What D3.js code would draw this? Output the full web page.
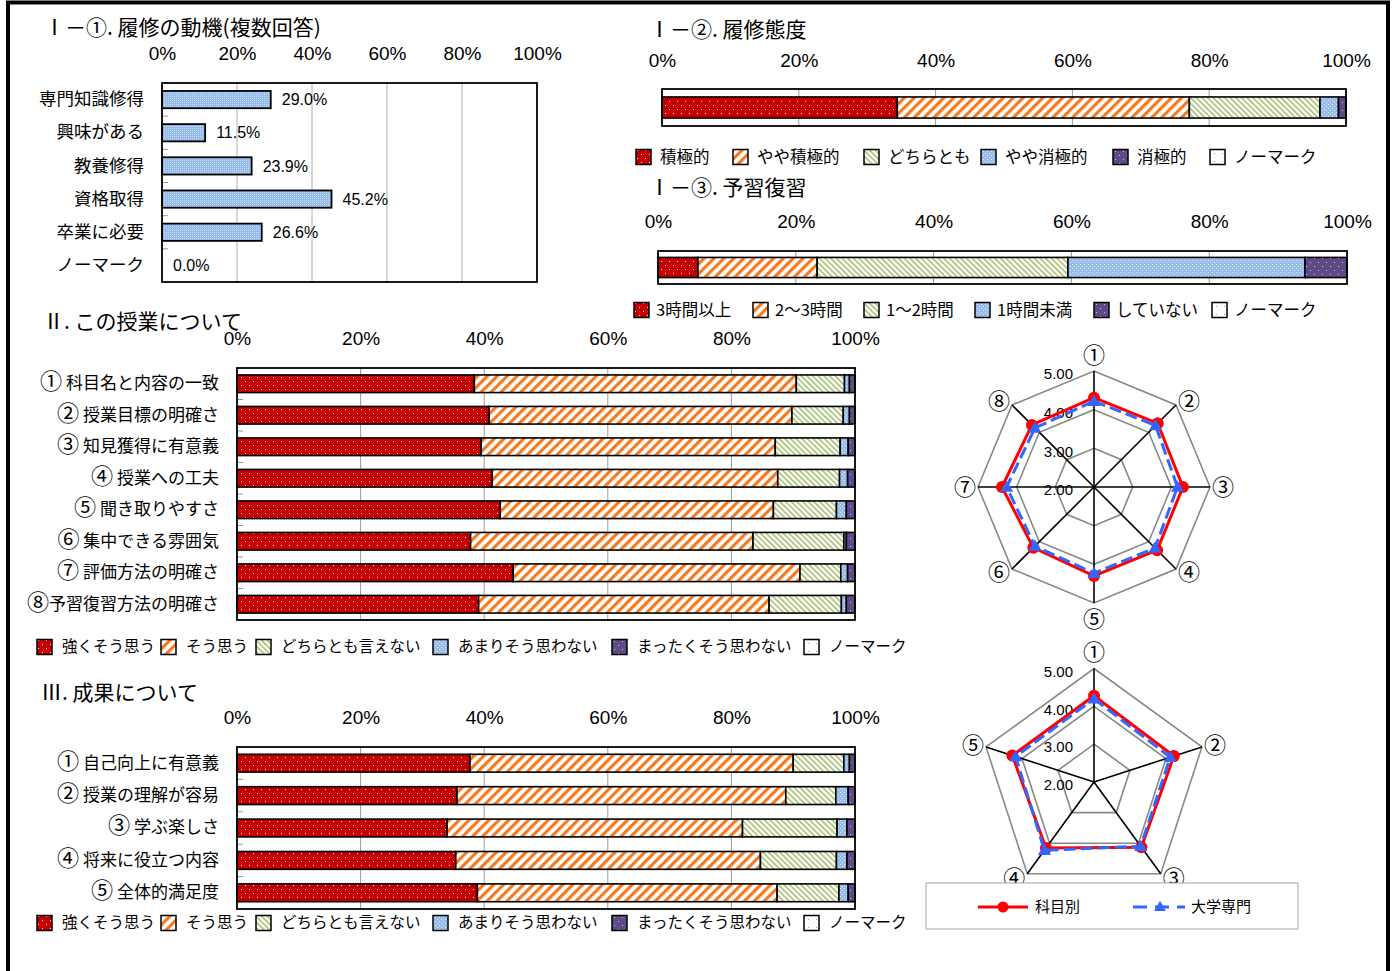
<!DOCTYPE html>
<html>
<head>
<meta charset="utf-8">
<script src="https://cdnjs.cloudflare.com/ajax/libs/d3/7.8.5/d3.min.js"></script>
<style>
  body { margin: 0; background: #fff; }
  svg { display: block; }
  text { font-family: "Noto Sans CJK JP", sans-serif; fill: #000; }
  .num { font-family: "Liberation Sans", Arial, sans-serif; }
  .narrow { font-family: "Liberation Sans Narrow", "Arial Narrow", "Liberation Sans", sans-serif; }
</style>
</head>
<body>
<svg id="chart" width="1393" height="971"></svg>
<script>
"use strict";

// ---- data ----
var motiveCats = ['専門知識修得', '興味がある', '教養修得', '資格取得', '卒業に必要', 'ノーマーク'];
var motiveVals = [29.0, 11.5, 23.9, 45.2, 26.6, 0.0];

var attitudeKeys = ['積極的', 'やや積極的', 'どちらとも', 'やや消極的', '消極的', 'ノーマーク'];
var attitudeVals = [34.4, 42.7, 19.1, 2.7, 1.1, 0.0];

var studyKeys = ['3時間以上', '2～3時間', '1～2時間', '1時間未満', 'していない', 'ノーマーク'];
var studyVals = [5.8, 17.3, 36.4, 34.4, 6.1, 0.0];

var agreeKeys = ['強くそう思う', 'そう思う', 'どちらとも言えない', 'あまりそう思わない', 'まったくそう思わない', 'ノーマーク'];

var classItems = ['① 科目名と内容の一致', '② 授業目標の明確さ', '③ 知見獲得に有意義', '④ 授業への工夫',
                  '⑤ 聞き取りやすさ', '⑥ 集中できる雰囲気', '⑦ 評価方法の明確さ', '⑧予習復習方法の明確さ'];
var classVals = [
    [38.4, 52.1, 7.8, 0.8, 0.9, 0],
    [40.8, 49.0, 8.3, 1.0, 0.9, 0],
    [39.5, 47.6, 10.5, 1.3, 1.1, 0],
    [41.3, 46.2, 10.0, 1.3, 1.2, 0],
    [42.6, 44.2, 10.2, 1.6, 1.4, 0],
    [37.8, 45.7, 14.7, 0.4, 1.4, 0],
    [44.7, 46.4, 6.6, 1.1, 1.2, 0],
    [39.1, 47.0, 11.7, 0.8, 1.4, 0]
];

var resultItems = ['① 自己向上に有意義', '② 授業の理解が容易', '③ 学ぶ楽しさ', '④ 将来に役立つ内容', '⑤ 全体的満足度'];
var resultVals = [
    [37.7, 52.3, 8.2, 0.9, 0.9, 0],
    [35.6, 53.2, 8.1, 2.0, 1.1, 0],
    [34.0, 47.8, 15.3, 1.6, 1.3, 0],
    [35.4, 49.3, 12.3, 1.7, 1.3, 0],
    [38.9, 48.5, 10.0, 1.5, 1.1, 0]
];

var pctTicks = [0, 20, 40, 60, 80, 100];
var radarTicks = [2, 3, 4, 5];
var seriesNames = ['科目別', '大学専門'];

var classAxes = ['①', '②', '③', '④', '⑤', '⑥', '⑦', '⑧'];
var classSubject = [4.31, 4.33, 4.30, 4.31, 4.30, 4.22, 4.38, 4.27];
var classUniv = [4.22, 4.25, 4.16, 4.23, 4.23, 4.16, 4.26, 4.16];

var resultAxes = ['①', '②', '③', '④', '⑤'];
var resultSubject = [4.28, 4.22, 4.13, 4.16, 4.27];
var resultUniv = [4.20, 4.12, 4.10, 4.23, 4.18];

// ---- setup ----
var svg = d3.select('#chart');
svg.append('rect').attr('width', 1393).attr('height', 971).attr('fill', '#fff');

var defs = svg.append('defs');

function dotPattern(id, bg, dot, size, pts, op) {
    var p = defs.append('pattern').attr('id', id)
        .attr('patternUnits', 'userSpaceOnUse')
        .attr('width', size).attr('height', size);
    p.append('rect').attr('width', size).attr('height', size).attr('fill', bg);
    pts.forEach(function(q) {
        p.append('rect').attr('x', q[0]).attr('y', q[1]).attr('width', 1).attr('height', 1)
            .attr('fill', dot).attr('opacity', op);
    });
}

function stripePattern(id, color, size, w, angle) {
    var p = defs.append('pattern').attr('id', id)
        .attr('patternUnits', 'userSpaceOnUse')
        .attr('width', size).attr('height', size)
        .attr('patternTransform', 'rotate(' + angle + ')');
    p.append('rect').attr('width', size).attr('height', size).attr('fill', '#fff');
    p.append('rect').attr('width', w).attr('height', size).attr('fill', color);
}

dotPattern('p-red', '#C40000', '#fff', 8, [[1, 1], [5, 5]], 0.9);
stripePattern('p-orange', '#F47A1F', 7, 3.2, 45);
stripePattern('p-green', '#9DBA66', 4, 1.5, -45);
dotPattern('p-blue', '#98BDEA', '#fff', 4, [[0, 0], [2, 2]], 0.7);
dotPattern('p-purple', '#5E4A86', '#fff', 8, [[2, 2], [6, 6]], 0.7);
dotPattern('p-none', '#fff', '#888', 8, [[4, 4]], 0.8);
dotPattern('p-motive', '#93BBEC', '#fff', 2, [[0, 0]], 0.45);

var fills = ['url(#p-red)', 'url(#p-orange)', 'url(#p-green)', 'url(#p-blue)', 'url(#p-purple)', 'url(#p-none)'];

var circled = /^[①②③④⑤⑥⑦⑧]/;

// enlarge the circled digit, it is small in the CJK font
function withCircled(sel) {
    sel.each(function(d) {
        var t = d3.select(this);
        var s = t.text();
        if (!circled.test(s)) return;
        t.text(null);
        t.append('tspan').style('font-size', '1.3em').text(s[0]);
        t.append('tspan').text(s.slice(1));
    });
}

function title(txt, x, y) {
    svg.append('text').attr('x', x).attr('y', y).attr('dy', '0.35em')
        .style('font-size', '21px').text(txt).call(withCircled);
}

function pctAxis(x, y) {
    var g = svg.append('g').attr('transform', 'translate(0,' + y + ')')
        .call(d3.axisTop(x).tickValues(pctTicks).tickFormat(function(d) { return d + '%'; })
            .tickSize(0).tickPadding(0));
    g.select('.domain').remove();
    g.selectAll('text').attr('y', 0).attr('dy', '0.35em')
        .attr('class', 'num').style('font-size', '19px').attr('fill', '#000');
}

function frame(x, y, gridStroke) {
    var g = svg.append('g');
    g.selectAll('line').data([20, 40, 60, 80]).join('line')
        .attr('x1', function(d) { return x(d); }).attr('x2', function(d) { return x(d); })
        .attr('y1', y.range()[0]).attr('y2', y.range()[1])
        .attr('stroke', gridStroke).attr('stroke-width', 1);
    return g;
}

function bandTicks(x, y) {
    var n = y.domain().length;
    var step = y.step();
    svg.append('g').selectAll('line').data(d3.range(1, n)).join('line')
        .attr('x1', x.range()[0]).attr('x2', x.range()[0] + 6)
        .attr('y1', function(i) { return y.range()[0] + i * step; })
        .attr('y2', function(i) { return y.range()[0] + i * step; })
        .attr('stroke', '#999').attr('stroke-width', 1);
}

function box(x, y) {
    svg.append('rect')
        .attr('x', x.range()[0]).attr('y', y.range()[0])
        .attr('width', x.range()[1] - x.range()[0])
        .attr('height', y.range()[1] - y.range()[0])
        .attr('fill', 'none').attr('stroke', '#000').attr('stroke-width', 1.8);
}

function catAxis(y, labelX, size) {
    var g = svg.append('g').attr('transform', 'translate(' + labelX + ',0)')
        .call(d3.axisLeft(y).tickSize(0).tickPadding(0));
    g.select('.domain').remove();
    g.selectAll('text').attr('fill', '#000').style('font-size', size + 'px')
        .style('font-family', '"Noto Sans CJK JP", sans-serif')
        .call(withCircled);
}

function legend(keys, xs, y, size, off) {
    var g = svg.append('g');
    var it = g.selectAll('g').data(keys).join('g')
        .attr('transform', function(d, i) { return 'translate(' + xs[i] + ',' + y + ')'; });
    it.append('rect').attr('x', 0).attr('y', -7.5).attr('width', 15).attr('height', 15)
        .attr('fill', function(d, i) { return fills[i]; })
        .attr('stroke', '#000').attr('stroke-width', 1.5);
    it.append('text').attr('x', off).attr('dy', '0.35em')
        .style('font-size', size + 'px').text(function(d) { return d; });
}

// stacked 100% bars
function stacked(rows, vals, keys, o) {
    var x = d3.scaleLinear().domain([0, 100]).range([o.x0, o.x1]);
    var y = d3.scaleBand().domain(rows).range([o.y0, o.y1])
        .paddingInner(o.pad).paddingOuter(o.pad / 2);

    frame(x, y, '#9a9a9a');
    pctAxis(x, o.tickY);
    if (o.labelX) { catAxis(y, o.labelX, 17); bandTicks(x, y); }

    var series = d3.stack().keys(d3.range(keys.length))
        .value(function(d, k) { return d[k]; })(vals);

    svg.append('g').selectAll('g').data(series).join('g')
        .attr('fill', function(s) { return fills[s.key]; })
        .selectAll('rect').data(function(s) { return s.filter(function(p) { return p[1] - p[0] > 0; }); })
        .join('rect')
        .attr('x', function(p) { return x(p[0]); })
        .attr('width', function(p) { return x(p[1]) - x(p[0]); })
        .attr('y', function(p) { return y(rows[vals.indexOf(p.data)]); })
        .attr('height', y.bandwidth())
        .attr('stroke', '#000').attr('stroke-width', 1.6);

    box(x, y);
    legend(keys, o.legendX, o.legendY, o.legendSize, o.legendOff);
}

// ---- I-1 motive ----
title('Ⅰ－①. 履修の動機(複数回答)', 44, 28);
(function() {
    var x = d3.scaleLinear().domain([0, 100]).range([162, 537]);
    var y = d3.scaleBand().domain(motiveCats).range([83, 282]).paddingInner(0.48).paddingOuter(0.24);
    frame(x, y, '#b0b0b0');
    pctAxis(x, 53);
    catAxis(y, 144, 17.5);
    bandTicks(x, y);
    var g = svg.append('g');
    g.selectAll('rect').data(motiveVals).join('rect')
        .filter(function(d) { return d > 0; })
        .attr('x', x(0)).attr('y', function(d) { return y(motiveCats[motiveVals.indexOf(d)]); })
        .attr('width', function(d) { return x(d) - x(0); })
        .attr('height', y.bandwidth())
        .attr('fill', 'url(#p-motive)').attr('stroke', '#000').attr('stroke-width', 1.8);
    g.selectAll('text').data(motiveVals).join('text')
        .attr('class', 'narrow')
        .attr('x', function(d) { return x(d) + 11; })
        .attr('y', function(d, i) { return y(motiveCats[i]) + y.bandwidth() / 2; })
        .attr('dy', '0.35em').style('font-size', '16px')
        .text(function(d) { return d.toFixed(1) + '%'; });
    box(x, y);
})();

// ---- I-2 attitude ----
title('Ⅰ－②. 履修態度', 649, 30);
stacked(['all'], [attitudeVals], attitudeKeys, {
    x0: 662, x1: 1346, y0: 89, y1: 126, pad: 0.43, tickY: 60,
    legendX: [636, 733, 864, 981, 1113, 1210], legendY: 157, legendSize: 16.5, legendOff: 24
});

// ---- I-3 study ----
title('Ⅰ－③. 予習復習', 649, 188);
stacked(['all'], [studyVals], studyKeys, {
    x0: 658, x1: 1347, y0: 251, y1: 284, pad: 0.39, tickY: 221,
    legendX: [634, 753, 864, 975, 1094, 1212], legendY: 310, legendSize: 16.5, legendOff: 22
});

// ---- II class ----
title('Ⅱ. この授業について', 43, 322);
stacked(classItems, classVals, agreeKeys, {
    x0: 237, x1: 855, y0: 368, y1: 620, pad: 0.44, tickY: 338, labelX: 219,
    legendX: [37, 161, 256, 433, 612, 804], legendY: 647, legendSize: 15.5, legendOff: 25
});

// ---- III results ----
title('Ⅲ. 成果について', 41, 693);
stacked(resultItems, resultVals, agreeKeys, {
    x0: 237, x1: 855, y0: 747, y1: 909, pad: 0.45, tickY: 717, labelX: 219,
    legendX: [37, 161, 256, 433, 612, 804], legendY: 923, legendSize: 15.5, legendOff: 25
});

// ---- radar charts ----
function radar(axes, subj, univ, cx, cy, R) {
    var n = axes.length;
    var r = d3.scaleLinear().domain([2, 5]).range([0, R]);
    var ang = function(i) { return i * 2 * Math.PI / n; };
    var pt = function(i, v) { return [cx + r(v) * Math.sin(ang(i)), cy - r(v) * Math.cos(ang(i))]; };
    var g = svg.append('g');
    var closed = d3.line().curve(d3.curveLinearClosed);

    g.selectAll('path.ring').data([3, 4, 5]).join('path')
        .attr('d', function(v) { return closed(d3.range(n).map(function(i) { return pt(i, v); })); })
        .attr('fill', 'none').attr('stroke', '#888').attr('stroke-width', 1.6);
    g.selectAll('line.spoke').data(d3.range(n)).join('line')
        .attr('x1', cx).attr('y1', cy)
        .attr('x2', function(i) { return pt(i, 5)[0]; })
        .attr('y2', function(i) { return pt(i, 5)[1]; })
        .attr('stroke', '#000').attr('stroke-width', 1.6);

    g.selectAll('text.tick').data(radarTicks).join('text')
        .attr('class', 'num').attr('x', cx - 21).attr('y', function(v) { return cy - r(v) + 3; })
        .attr('dy', '0.35em').attr('text-anchor', 'end').style('font-size', '15px')
        .text(function(v) { return v.toFixed(2); });

    g.selectAll('text.ax').data(axes).join('text')
        .attr('x', function(d, i) {
            var ux = Math.sin(ang(i));
            return pt(i, 5)[0] + (Math.abs(ux) < 0.1 ? 0 : (ux > 0 ? 13 : -13));
        })
        .attr('y', function(d, i) {
            var ux = Math.sin(ang(i)), uy = -Math.cos(ang(i));
            return pt(i, 5)[1] + (Math.abs(ux) < 0.1 ? (uy < 0 ? -16 : 16) : uy * 5);
        })
        .attr('dy', '0.35em').attr('text-anchor', 'middle').style('font-size', '22px')
        .text(function(d) { return d; });

    g.append('path').attr('d', closed(subj.map(function(v, i) { return pt(i, v); })))
        .attr('fill', 'none').attr('stroke', '#FF0000').attr('stroke-width', 3);
    g.selectAll('circle').data(subj).join('circle')
        .attr('cx', function(v, i) { return pt(i, v)[0]; })
        .attr('cy', function(v, i) { return pt(i, v)[1]; })
        .attr('r', 6).attr('fill', '#FF0000');

    g.append('path').attr('d', closed(univ.map(function(v, i) { return pt(i, v); })))
        .attr('fill', 'none').attr('stroke', '#3366FF').attr('stroke-width', 3)
        .attr('stroke-dasharray', '12,5');
    g.selectAll('path.tri').data(univ).join('path').attr('class', 'tri')
        .attr('d', d3.symbol(d3.symbolTriangle).size(75))
        .attr('transform', function(v, i) { var p = pt(i, v); return 'translate(' + p[0] + ',' + (p[1] + 1) + ')'; })
        .attr('fill', '#3366FF');
}

radar(classAxes, classSubject, classUniv, 1094, 487, 116);
radar(resultAxes, resultSubject, resultUniv, 1094, 782, 113.5);

// radar legend
(function() {
    var g = svg.append('g');
    g.append('rect').attr('x', 926).attr('y', 883).attr('width', 372).attr('height', 46)
        .attr('fill', '#fff').attr('stroke', '#a6a6a6').attr('stroke-width', 1);
    var y = 907;
    g.append('line').attr('x1', 978).attr('x2', 1028).attr('y1', y).attr('y2', y)
        .attr('stroke', '#FF0000').attr('stroke-width', 3);
    g.append('circle').attr('cx', 1003).attr('cy', y).attr('r', 5.5).attr('fill', '#FF0000');
    g.append('line').attr('x1', 1133).attr('x2', 1185).attr('y1', y).attr('y2', y)
        .attr('stroke', '#3366FF').attr('stroke-width', 3).attr('stroke-dasharray', '14,8');
    g.append('path').attr('d', d3.symbol(d3.symbolTriangle).size(60))
        .attr('transform', 'translate(1160,' + (y + 0.5) + ')').attr('fill', '#3366FF');
    g.selectAll('text').data(seriesNames).join('text')
        .attr('x', function(d, i) { return i === 0 ? 1035 : 1191; })
        .attr('y', y).attr('dy', '0.35em').style('font-size', '15px')
        .text(function(d) { return d; });
})();

// outer frame
svg.append('path').attr('d', 'M8,971 V2.5 H1388 V971')
    .attr('fill', 'none').attr('stroke', '#000').attr('stroke-width', 4);
</script>
</body>
</html>
